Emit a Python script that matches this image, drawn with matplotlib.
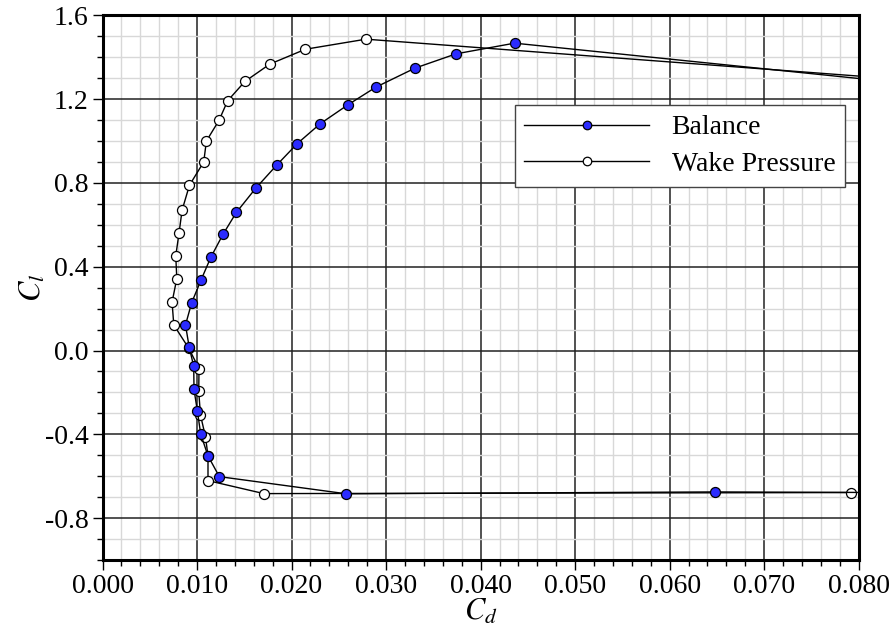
import matplotlib
matplotlib.use('Agg')
import matplotlib.pyplot as plt
from matplotlib.ticker import MultipleLocator, FormatStrFormatter

plt.rcParams['font.family'] = 'Liberation Serif'
plt.rcParams['mathtext.fontset'] = 'stix'

# Balance data (Cd, Cl), in order of angle of attack
balance_cd = [0.0900, 0.0648, 0.0258, 0.01236, 0.01116, 0.01039, 0.01004, 0.00968, 0.00965,
              0.00916, 0.00878, 0.00944, 0.01042, 0.01145, 0.01274, 0.01416, 0.01620, 0.01841,
              0.02059, 0.02302, 0.02597, 0.02892, 0.03307, 0.03740, 0.04359, 0.0900]
balance_cl = [-0.679, -0.675, -0.684, -0.602, -0.503, -0.399, -0.290, -0.186, -0.076,
              0.019, 0.122, 0.229, 0.336, 0.444, 0.554, 0.659, 0.774, 0.884,
              0.987, 1.082, 1.173, 1.257, 1.348, 1.416, 1.467, 1.252]

# Wake pressure data (Cd, Cl)
wake_cd = [0.07914, 0.01707, 0.01116, 0.01116, 0.01089, 0.01036, 0.01018, 0.01021, 0.00912,
           0.00754, 0.00736, 0.00786, 0.00775, 0.00810, 0.00842, 0.00920, 0.01071, 0.01099,
           0.01232, 0.01324, 0.01506, 0.01770, 0.02147, 0.02787, 0.0900]
wake_cl = [-0.678, -0.683, -0.621, -0.503, -0.411, -0.307, -0.195, -0.086, 0.011,
           0.122, 0.231, 0.343, 0.452, 0.562, 0.670, 0.789, 0.900, 1.000,
           1.098, 1.192, 1.284, 1.367, 1.438, 1.486, 1.276]

fig = plt.figure(figsize=(8.96, 6.32), dpi=100)
ax = fig.add_axes([0.1144, 0.1139, 0.8440, 0.8619])

ax.plot(wake_cd, wake_cl, color='black', lw=1, marker='o', ms=7.2,
        mfc='white', mec='black', mew=0.9, label='Wake Pressure', zorder=3)
ax.plot(balance_cd, balance_cl, color='black', lw=1, marker='o', ms=7.2,
        mfc='#2b2bff', mec='black', mew=0.9, label='Balance', zorder=4)

ax.set_xlim(0, 0.08)
ax.set_ylim(-1.0, 1.6)

ax.xaxis.set_major_locator(MultipleLocator(0.01))
ax.xaxis.set_minor_locator(MultipleLocator(0.002))
ax.yaxis.set_major_locator(MultipleLocator(0.4))
ax.yaxis.set_minor_locator(MultipleLocator(0.1))
ax.xaxis.set_major_formatter(FormatStrFormatter('%.3f'))
ax.yaxis.set_major_formatter(FormatStrFormatter('%.1f'))

# grid: light minor, dark major
ax.grid(which='minor', color='#d8d8d8', lw=1)
ax.grid(which='major', color='#222222', lw=1.1)
ax.set_axisbelow(True)

ax.tick_params(which='both', direction='out', top=False, right=False, labelsize=20, width=1, pad=3)
ax.tick_params(which='major', length=7)
ax.tick_params(which='minor', length=4.5)

for s in ax.spines.values():
    s.set_linewidth(2.2)

ax.set_xlabel('$C_d$', fontsize=22, labelpad=-1)
ax.set_ylabel('$C_l$', fontsize=22, labelpad=-2)

# legend: Balance first
h, l = ax.get_legend_handles_labels()
leg = ax.legend(h[::-1], l[::-1], loc='upper right', bbox_to_anchor=(0.982, 0.835),
                borderaxespad=0, fontsize=20, fancybox=False, framealpha=1,
                edgecolor='#444444', handlelength=4.5, handletextpad=0.8,
                labelspacing=0.4, markerscale=0.85, borderpad=0.35)
leg.get_frame().set_linewidth(1)

fig.savefig('out.png', dpi=100)
